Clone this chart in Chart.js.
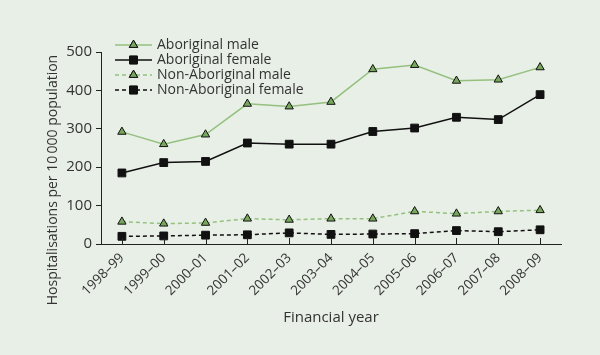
<!DOCTYPE html>
<html><head><meta charset="utf-8">
<script src="https://cdn.jsdelivr.net/npm/chart.js@4.4.0/dist/chart.umd.min.js"></script>
<style>html,body{margin:0;padding:0;background:#e8efe6;}canvas{display:block;}</style>
</head><body>
<canvas id="c" width="600" height="355"></canvas>
<script>
const categories = ["1998–99","1999–00","2000–01","2001–02","2002–03","2003–04","2004–05","2005–06","2006–07","2007–08","2008–09"];
const aboriginalMale = [292, 260, 285, 365, 358, 370, 455, 466, 425, 428, 460];
const aboriginalFemale = [185, 212, 215, 263, 260, 260, 293, 302, 330, 324, 389];
const nonAboriginalMale = [58, 53, 55, 66, 63, 66, 66, 85, 79, 85, 88];
const nonAboriginalFemale = [20, 21, 23, 24, 29, 25, 26, 27, 35, 32, 37];
const yTicks = [0, 100, 200, 300, 400, 500];
const yTitle = 'Hospitalisations per 10\u2009000 population';
const xTitle = 'Financial year';

const GREEN_LINE = '#95c07f';
const GREEN_FILL = '#76a75c';
const FONT = '"Open Sans", sans-serif';
const TEXT = '#333333';

const series = [
  {label:'Aboriginal male', data:aboriginalMale, color:GREEN_LINE, fill:GREEN_FILL, style:'triangle', dash:[]},
  {label:'Aboriginal female', data:aboriginalFemale, color:'#111111', fill:'#111111', style:'rect', dash:[]},
  {label:'Non-Aboriginal male', data:nonAboriginalMale, color:GREEN_LINE, fill:GREEN_FILL, style:'triangle', dash:[4,3]},
  {label:'Non-Aboriginal female', data:nonAboriginalFemale, color:'#111111', fill:'#111111', style:'rect', dash:[4,3]}
];

const bgPlugin = {
  id:'bg',
  beforeDraw(chart){
    const ctx = chart.ctx;
    ctx.save(); ctx.fillStyle='#e8efe6'; ctx.fillRect(0,0,chart.width,chart.height); ctx.restore();
  }
};

const extrasPlugin = {
  id:'extras',
  afterDraw(chart){
    const ctx = chart.ctx;
    const xs = chart.scales.x;
    const bottom = chart.chartArea.bottom;
    ctx.save();
    ctx.strokeStyle = '#222'; ctx.lineWidth = 1;
    // inward x ticks
    categories.forEach((c,i)=>{
      const x = Math.round(xs.getPixelForValue(i)) + 0.5;
      ctx.beginPath(); ctx.moveTo(x, bottom); ctx.lineTo(x, bottom-6); ctx.stroke();
    });
    // y title
    ctx.save();
    ctx.translate(53, 180);
    ctx.rotate(-Math.PI/2);
    ctx.font = '14px ' + FONT;
    ctx.fillStyle = TEXT;
    ctx.textAlign = 'center'; ctx.textBaseline = 'middle';
    ctx.fillText(yTitle, 0, 0);
    ctx.restore();
    // legend
    const lx0 = 115, lx1 = 152, mx = 133.5, tx = 157;
    const rows = [45, 60, 75, 90];
    ctx.font = '14px ' + FONT;
    ctx.textBaseline = 'middle';
    ctx.textAlign = 'left';
    series.forEach((s,i)=>{
      const y = rows[i];
      ctx.save();
      ctx.strokeStyle = s.color; ctx.lineWidth = 1.5;
      ctx.setLineDash(s.dash);
      ctx.beginPath(); ctx.moveTo(lx0, y); ctx.lineTo(lx1, y); ctx.stroke();
      ctx.restore();
      ctx.save();
      ctx.fillStyle = s.fill; ctx.strokeStyle = '#111'; ctx.lineWidth = 1;
      Chart.helpers.drawPoint(ctx, {pointStyle:s.style, radius: s.style==='rect'?5.5:4.8, borderWidth:1}, mx, y);
      ctx.fill(); ctx.stroke();
      ctx.restore();
      ctx.fillStyle = TEXT;
      ctx.fillText(s.label, tx, y);
    });
    ctx.restore();
  }
};

new Chart(document.getElementById('c'), {
  type:'line',
  data:{
    labels:categories,
    datasets: series.map(s=>({
      label:s.label, data:s.data,
      borderColor:s.color, borderWidth:1.5, borderDash:s.dash,
      pointStyle:s.style, pointRadius: s.style==='rect'?5.5:4.8,
      pointBackgroundColor:s.fill, pointBorderColor:'#111', pointBorderWidth:1,
      tension:0, fill:false
    }))
  },
  options:{
    responsive:false, animation:false, devicePixelRatio:1,
    layout:{padding:{top:52, right:39, left:0, bottom:28}},
    plugins:{legend:{display:false}, tooltip:{enabled:false}},
    scales:{
      x:{
        offset:true,
        grid:{display:true, drawOnChartArea:false, drawTicks:false, color:'#222'},
        border:{display:true, color:'#222', width:1},
        ticks:{color:TEXT, font:{family:FONT, size:13.5}, maxRotation:45, minRotation:45, padding:6, autoSkip:false},
        title:{display:true, text:xTitle, color:TEXT, font:{family:FONT, size:15}, padding:{top:10,bottom:0}},
        afterFit(scale){ scale.height = 355 - 244 - 28; }
      },
      y:{
        min:0, max:500,
        afterBuildTicks(scale){ scale.ticks = yTicks.map(v=>({value:v})); },
        grid:{display:true, drawOnChartArea:false, drawTicks:true, tickLength:5, color:'#222'},
        border:{display:true, color:'#222', width:1},
        ticks:{color:TEXT, font:{family:FONT, size:15}, padding:4},
        title:{display:false},
        afterFit(scale){ scale.width = 101; }
      }
    }
  },
  plugins:[bgPlugin, extrasPlugin]
});
</script>
</body></html>
